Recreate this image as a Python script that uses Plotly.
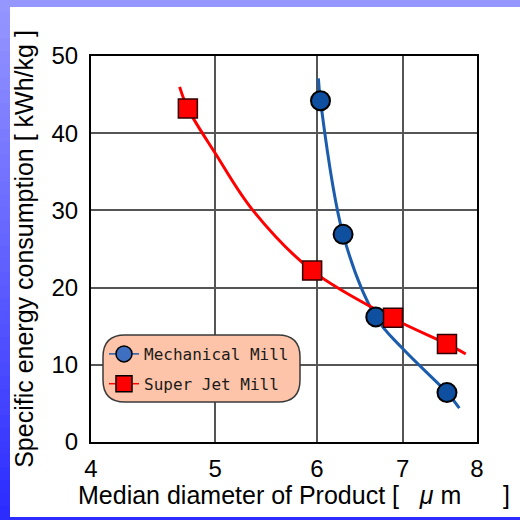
import plotly.graph_objects as go

# ---- data ----
mech_x = [6.04, 6.29, 6.67, 7.58]
mech_y = [44.2, 26.9, 16.2, 6.4]
jet_x = [4.76, 5.95, 6.88, 7.58]
jet_y = [43.2, 22.2, 16.1, 12.7]

# trend curves
mech_curve_x = [6.017, 6.04, 6.29, 6.67, 7.0, 7.58, 7.75]
mech_curve_y = [47.1, 44.2, 26.9, 16.2, 12.1, 6.4, 4.4]
jet_curve_x = [4.69, 4.76, 5.0, 5.35, 5.95, 6.88, 7.58, 7.84]
jet_curve_y = [46.0, 43.2, 37.4, 30.0, 22.2, 16.0, 12.7, 11.4]

x_ticks = [4, 5, 6, 7, 8]
y_ticks = [0, 10, 20, 30, 40, 50]

# ---- layout geometry (pixels) ----
W = H = 520
L, R, T, B = 91, 43, 56, 78
PW = W - L - R
PH = H - T - B

def px(x):
    return (x - L) / PW

def py(y):
    return (H - B - y) / PH

BLUE_LINE = "#1c5cad"
BLUE_FILL = "#0f4f9f"
RED = "#ff0000"

fig = go.Figure()

fig.add_trace(go.Scatter(x=mech_curve_x, y=mech_curve_y, mode="lines",
                         line=dict(color=BLUE_LINE, width=3, shape="spline", smoothing=1.0),
                         showlegend=False, hoverinfo="skip"))
fig.add_trace(go.Scatter(x=jet_curve_x, y=jet_curve_y, mode="lines",
                         line=dict(color=RED, width=3, shape="spline", smoothing=1.0),
                         showlegend=False, hoverinfo="skip"))
fig.add_trace(go.Scatter(x=mech_x, y=mech_y, mode="markers", name="Mechanical Mill",
                         showlegend=False,
                         marker=dict(symbol="circle", size=19, color=BLUE_FILL,
                                     line=dict(color="black", width=2))))
fig.add_trace(go.Scatter(x=jet_x, y=jet_y, mode="markers", name="Super Jet Mill",
                         showlegend=False,
                         marker=dict(symbol="square", size=19, color=RED,
                                     line=dict(color="#300000", width=1.5))))

# legend entries (line + marker look)
fig.add_trace(go.Scatter(x=[None], y=[None], mode="lines+markers", name="Mechanical Mill",
                         legendgroup="a",
                         line=dict(color=BLUE_LINE, width=1.5),
                         marker=dict(symbol="circle", size=16, color="#3f6fc0",
                                     line=dict(color="black", width=1.5))))
fig.add_trace(go.Scatter(x=[None], y=[None], mode="lines+markers", name="Super Jet Mill",
                         legendgroup="b",
                         line=dict(color=RED, width=1.5),
                         marker=dict(symbol="square", size=16, color=RED,
                                     line=dict(color="black", width=1.5))))

shapes = []
# background gradient bands
n = 40
top_c = (0x96, 0x96, 0xff)
bot_c = (0x2c, 0x2c, 0xff)
for i in range(n):
    t = i / (n - 1)
    c = tuple(int(round(top_c[k] + (bot_c[k] - top_c[k]) * t)) for k in range(3))
    y0 = H * i / n - 1
    y1 = H * (i + 1) / n + 1
    shapes.append(dict(type="rect", xref="paper", yref="paper",
                       x0=px(-1), x1=px(W + 1), y0=py(y1), y1=py(y0),
                       fillcolor="rgb(%d,%d,%d)" % c, line=dict(width=0), layer="below"))
# white page
shapes.append(dict(type="rect", xref="paper", yref="paper",
                   x0=px(10), x1=px(W + 2), y0=py(517), y1=py(7),
                   fillcolor="white", line=dict(width=0), layer="below"))

# rounded legend box
lx0, lx1, ly0, ly1, r = 103, 300, 335, 402, 22
path = (f"M {px(lx0 + r)},{py(ly0)} L {px(lx1 - r)},{py(ly0)} "
        f"Q {px(lx1)},{py(ly0)} {px(lx1)},{py(ly0 + r)} "
        f"L {px(lx1)},{py(ly1 - r)} Q {px(lx1)},{py(ly1)} {px(lx1 - r)},{py(ly1)} "
        f"L {px(lx0 + r)},{py(ly1)} Q {px(lx0)},{py(ly1)} {px(lx0)},{py(ly1 - r)} "
        f"L {px(lx0)},{py(ly0 + r)} Q {px(lx0)},{py(ly0)} {px(lx0 + r)},{py(ly0)} Z")
shapes.append(dict(type="path", xref="paper", yref="paper", path=path,
                   fillcolor="#fdc4a9", line=dict(color="#3a3a3a", width=1.5), layer="above"))

NB = "\u00a0"
x_title = ("Median diameter of Product [" + NB * 3 + "<i>\u03bc</i>" + NB
           + "m" + NB * 6 + "]")

fig.update_layout(
    width=W, height=H,
    margin=dict(l=L, r=R, t=T, b=B),
    paper_bgcolor="#9696ff",
    plot_bgcolor="white",
    shapes=shapes,
    font=dict(family="Liberation Sans, Arial, sans-serif", color="black"),
    showlegend=True,
    legend=dict(x=px(104), y=py(337), xanchor="left", yanchor="top",
                bgcolor="rgba(0,0,0,0)", borderwidth=0,
                font=dict(family="DejaVu Sans Mono, monospace", size=16, color="#1a1a1a"),
                tracegroupgap=6, itemwidth=30),
    annotations=[dict(text=x_title, xref="paper", yref="paper",
                      x=px(76), y=py(479), xanchor="left", yanchor="top",
                      showarrow=False, font=dict(size=25, color="black"))],
)

fig.update_xaxes(type="log", range=[0.60206, 0.90309],
                 tickvals=x_ticks, ticktext=[str(v) for v in x_ticks],
                 tickfont=dict(size=24), showgrid=True, gridcolor="#555", gridwidth=1.5,
                 showline=True, linecolor="black", linewidth=2, mirror=True,
                 ticks="", zeroline=False, ticklabelstandoff=4)
fig.update_yaxes(range=[0, 50], tickvals=y_ticks,
                 tickfont=dict(size=24), showgrid=True, gridcolor="#555", gridwidth=1.5,
                 showline=True, linecolor="black", linewidth=2, mirror=True,
                 ticks="", zeroline=False, ticklabelstandoff=6,
                 title=dict(text="Specific energy consumption [ kWh/kg ]",
                            font=dict(size=25), standoff=11))

fig.write_html("out.html", config={"displayModeBar": False},
               post_script="document.body.style.margin='0';document.body.style.padding='0';")
